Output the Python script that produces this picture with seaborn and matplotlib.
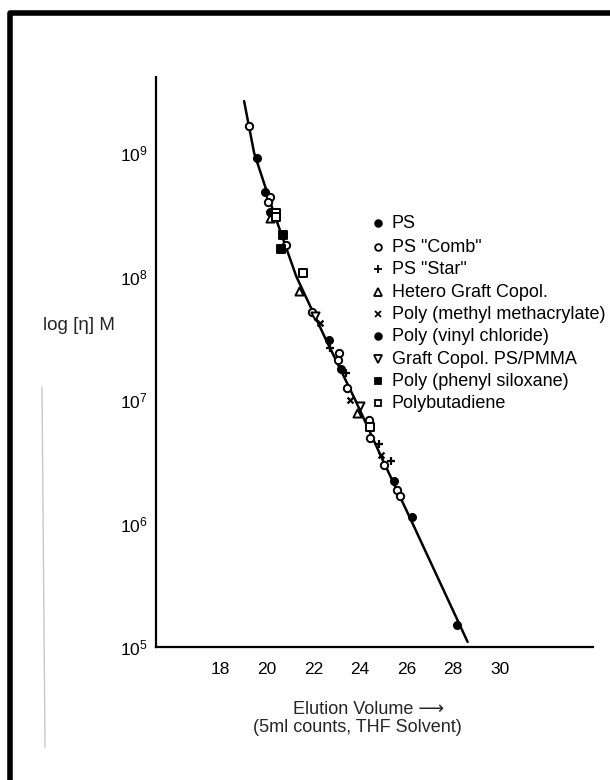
import numpy as np
import pandas as pd
import matplotlib
matplotlib.use("Agg")
import matplotlib.pyplot as plt
import seaborn as sns
from matplotlib.lines import Line2D
from matplotlib.ticker import FixedLocator, FuncFormatter, NullLocator

# ---------------- data ----------------
curve_x = [19.03, 19.46, 20.30, 21.27, 22.50, 23.80, 25.00, 26.26, 28.62]
curve_y = [2.63e9, 1.0e9, 3.3e8, 1.0e8, 3.2e7, 1.0e7, 3.2e6, 1.0e6, 1.1e5]

ps_x = [19.60, 19.94, 22.66, 25.46, 26.25, 28.18]
ps_y = [9.06e8, 4.79e8, 3.06e7, 2.2e6, 1.12e6, 1.51e5]

comb_x = [19.22, 20.12, 20.05, 20.81, 21.94, 23.12, 23.05, 23.45, 24.38, 24.45, 25.05, 25.60, 25.71]
comb_y = [1.66e9, 4.37e8, 3.98e8, 1.80e8, 5.13e7, 2.40e7, 2.09e7, 1.26e7, 6.9e6, 4.9e6, 3.0e6, 1.86e6, 1.66e6]

star_x = [22.73, 23.39, 24.81, 25.34]
star_y = [2.63e7, 1.66e7, 4.4e6, 3.2e6]

hetero_x = [20.16, 21.38, 23.88]
hetero_y = [2.99e8, 7.67e7, 7.8e6]

pmma_x = [22.30, 23.59, 24.91]
pmma_y = [4.17e7, 1.0e7, 3.6e6]

pvc_x = [20.15, 23.20]
pvc_y = [3.35e8, 1.78e7]

graft_x = [22.09, 24.02]
graft_y = [4.79e7, 8.9e6]

siloxane_x = [20.62, 20.70]
siloxane_y = [1.66e8, 2.17e8]

pbd_x = [20.40, 20.41, 21.54, 24.45]
pbd_y = [3.24e8, 3.02e8, 1.06e8, 6.0e6]

legend_labels = ["PS", 'PS "Comb"', 'PS "Star"', "Hetero Graft Copol.",
                 "Poly (methyl methacrylate)", "Poly (vinyl chloride)",
                 "Graft Copol. PS/PMMA", "Poly (phenyl siloxane)", "Polybutadiene"]

x_ticks = [18, 20, 22, 24, 26, 28, 30]
y_ticks = [1e5, 1e6, 1e7, 1e8, 1e9]

# ---------------- style ----------------
sns.set_theme(style="white")
plt.rcParams["font.family"] = ["Liberation Sans", "DejaVu Sans"]
plt.rcParams["mathtext.default"] = "regular"

W, H = 610, 780
fig = plt.figure(figsize=(W / 100, H / 100), dpi=100)
fig.patch.set_facecolor("white")

ax_l, ax_r, ax_b, ax_t = 156, 593, 647, 77
ax = fig.add_axes([ax_l / W, 1 - ax_b / H, (ax_r - ax_l) / W, (ax_b - ax_t) / H])
ax.set_facecolor("white")

# calibration curve
sns.lineplot(x=curve_x, y=curve_y, ax=ax, color="black", lw=1.8, sort=False, zorder=2)

series = [
    (ps_x, ps_y, "o", "black", "black", 26),
    (comb_x, comb_y, "o", "white", "black", 28),
    (star_x, star_y, "+", "black", "black", 34),
    (hetero_x, hetero_y, "^", "white", "black", 34),
    (pmma_x, pmma_y, "x", "black", "black", 18),
    (pvc_x, pvc_y, "o", "black", "black", 26),
    (graft_x, graft_y, "v", "white", "black", 34),
    (siloxane_x, siloxane_y, "s", "black", "black", 26),
    (pbd_x, pbd_y, "s", "white", "black", 26),
]
for xs, ys, m, fc, ec, s in series:
    if m in ("+", "x"):
        sns.scatterplot(x=xs, y=ys, ax=ax, marker=m, color=ec, s=s, linewidth=1.6, zorder=3)
    else:
        sns.scatterplot(x=xs, y=ys, ax=ax, marker=m, facecolor=fc, edgecolor=ec,
                        s=s, linewidth=1.4, zorder=3)

ax.set_yscale("log")
ax.set_xlim(15.25, 34.0)
ax.set_ylim(1e5, 10 ** 9.615)
ax.xaxis.set_major_locator(FixedLocator(x_ticks))
ax.yaxis.set_major_locator(FixedLocator(y_ticks))
ax.yaxis.set_minor_locator(NullLocator())
ax.yaxis.set_major_formatter(FuncFormatter(lambda v, p: r"$\mathregular{10^{%d}}$" % round(np.log10(v))))

for side in ["top", "right"]:
    ax.spines[side].set_visible(False)
for side in ["left", "bottom"]:
    ax.spines[side].set_linewidth(1.6)
    ax.spines[side].set_color("black")
ax.tick_params(axis="both", which="major", direction="in", length=9.5, width=1.5,
               colors="black", labelsize=12.5)
ax.tick_params(axis="x", pad=11)
ax.tick_params(axis="y", pad=6)
ax.set_xlabel("")
ax.set_ylabel("")

# legend (manual, in axes fraction)
leg_markers = [("o", "black", 4.8), ("o", "white", 4.8), ("+", "black", 6),
               ("^", "white", 5.8), ("x", "black", 3.8), ("o", "black", 4.8),
               ("v", "white", 5.8), ("s", "black", 4.8), ("s", "white", 4.8)]
rows_px = [223, 247, 269, 292, 314, 336, 359, 381, 403]
mx = (378 - ax_l) / (ax_r - ax_l)
tx = (392 - ax_l) / (ax_r - ax_l)
for (m, fc, ms), lab, ry in zip(leg_markers, legend_labels, rows_px):
    yy = (ax_b - ry) / (ax_b - ax_t)
    ax.add_line(Line2D([mx], [yy], transform=ax.transAxes, marker=m, markersize=ms,
                       markerfacecolor=fc, markeredgecolor="black", color="black",
                       markeredgewidth=1.3, linestyle="none", clip_on=False))
    ax.text(tx, yy, lab, transform=ax.transAxes, ha="left", va="center",
            fontsize=13, color="black")

# axis labels
fig.text(43 / W, 1 - 325 / H, "log [\u03b7] M", ha="left", va="center", fontsize=13.5)
fig.text(369 / W, 1 - 710 / H, "Elution Volume \u27f6", ha="center", va="center", fontsize=13)
fig.text(357 / W, 1 - 728 / H, "(5ml counts, THF Solvent)", ha="center", va="center", fontsize=13)

# faint scan artifact line and the thick frame
fig.add_artist(Line2D([42 / W, 45 / W], [1 - 387 / H, 1 - 747 / H], transform=fig.transFigure,
                      color="#c8c8c8", lw=1.0))
fig.add_artist(Line2D([9.5 / W, 9.5 / W, 1.2], [-0.2, 1 - 13 / H, 1 - 13 / H],
                      transform=fig.transFigure, color="black", lw=4.0,
                      solid_joinstyle="round"))

fig.savefig("out.png", dpi=100, facecolor="white")
